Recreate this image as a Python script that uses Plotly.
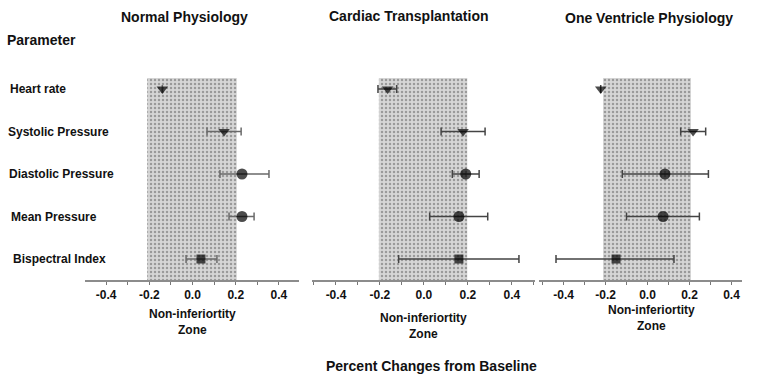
import plotly.graph_objects as go

parameters = ["Heart rate", "Systolic Pressure", "Diastolic Pressure", "Mean Pressure", "Bispectral Index"]
row_pos = [5, 4, 3, 2, 1]
symbols = ["triangle-down", "triangle-down", "circle", "circle", "square"]

panel_titles = ["Normal Physiology", "Cardiac Transplantation", "One Ventricle Physiology"]

normal_est = [-0.14, 0.146, 0.229, 0.229, 0.039]
normal_lo = [None, 0.067, 0.127, 0.169, -0.03]
normal_hi = [None, 0.225, 0.354, 0.285, 0.113]

cardiac_est = [-0.165, 0.178, 0.19, 0.159, 0.159]
cardiac_lo = [-0.209, 0.078, 0.129, 0.026, -0.115]
cardiac_hi = [-0.124, 0.278, 0.251, 0.29, 0.432]

onev_est = [-0.223, 0.217, 0.083, 0.074, -0.15]
onev_lo = [None, 0.158, -0.12, -0.10, -0.436]
onev_hi = [None, 0.277, 0.29, 0.247, 0.126]

zone_normal = [-0.21, 0.205]
zone_cardiac = [-0.205, 0.197]
zone_onev = [-0.212, 0.207]

tick_vals = [-0.4, -0.2, 0.0, 0.2, 0.4]
tick_text = ["-0.4", "-0.2", "0.0", "0.2", "0.4"]

W, H = 760, 378
TOP, BOT = 78, 280
FONT = "Liberation Sans, Arial, sans-serif"


def py(p):
    return (BOT - p) / (BOT - TOP)


panels = [
    (normal_est, normal_lo, normal_hi, zone_normal, [85, 299], [-0.498, 0.493], "#6a6a6a"),
    (cardiac_est, cardiac_lo, cardiac_hi, zone_cardiac, [312, 535], [-0.509, 0.505], "#444444"),
    (onev_est, onev_lo, onev_hi, zone_onev, [539, 742], [-0.517, 0.45], "#444444"),
]
y_range = [0.506, 5.259]

fig = go.Figure()
layout_axes = {}
for i, (est, lo, hi, zone, dom_px, xr, ecol) in enumerate(panels):
    n = i + 1
    xa = "x" if n == 1 else f"x{n}"
    ya = "y" if n == 1 else f"y{n}"
    fig.add_trace(go.Scatter(
        x=[zone[0], zone[1], zone[1], zone[0], zone[0]],
        y=[y_range[0], y_range[0], y_range[1], y_range[1], y_range[0]],
        mode="lines", line=dict(width=0), fill="toself",
        fillcolor="#d2d2d2",
        fillpattern=dict(shape=".", fgcolor="#9a9a9a", bgcolor="#d6d6d6", size=4, solidity=0.3, fillmode="replace"),
        xaxis=xa, yaxis=ya, hoverinfo="skip", showlegend=False))
    plus = [(h - e) if h is not None else None for e, h in zip(est, hi)]
    minus = [(e - l) if l is not None else None for e, l in zip(est, lo)]
    # error bars (drawn first)
    fig.add_trace(go.Scatter(
        x=est, y=row_pos, mode="markers",
        marker=dict(size=1, color=ecol),
        error_x=dict(type="data", array=plus, arrayminus=minus, color=ecol, thickness=1.5, width=4),
        xaxis=xa, yaxis=ya, hoverinfo="skip", showlegend=False))
    # point estimates on top
    fig.add_trace(go.Scatter(
        x=est, y=row_pos, mode="markers",
        marker=dict(symbol=symbols, size=[10, 10, 11, 11, 9], color="#000000",
                    line=dict(width=0)),
        xaxis=xa, yaxis=ya, showlegend=False))
    xkey = "xaxis" if n == 1 else f"xaxis{n}"
    ykey = "yaxis" if n == 1 else f"yaxis{n}"
    layout_axes[xkey] = dict(
        domain=[dom_px[0] / W, dom_px[1] / W], range=xr, anchor=ya,
        tickvals=tick_vals, ticktext=tick_text, ticks="outside", ticklen=3, tickwidth=1,
        tickcolor="#777", showline=True, linecolor="#8c8c8c", linewidth=1.5,
        showgrid=False, zeroline=False,
        tickfont=dict(family=FONT, size=12, color="#111", weight="bold"),
        minor=dict(dtick=0.1, tick0=0, ticks="outside", ticklen=3, tickcolor="#777"),
    )
    layout_axes[ykey] = dict(
        domain=[0, 1], range=y_range, anchor=xa, visible=False, showgrid=False, zeroline=False)

fig.update_layout(**layout_axes)

annotations = []
title_pos = [(184, 17), (409, 16), (649, 18)]
for t, (cx, cy) in zip(panel_titles, title_pos):
    annotations.append(dict(text=t, x=cx / W, y=py(cy), xref="paper", yref="paper",
                            yanchor="middle", xanchor="center", showarrow=False,
                            font=dict(family=FONT, size=14, color="#111", weight="bold")))
zone_pos = [(192, 322), (424, 326), (651, 318)]
for cx, cy in zone_pos:
    annotations.append(dict(text="Non-inferiortity<br>Zone", x=cx / W, y=py(cy), xref="paper", yref="paper",
                            yanchor="middle", xanchor="center", showarrow=False,
                            font=dict(family=FONT, size=12, color="#111", weight="bold")))
annotations.append(dict(text="Parameter", x=5 / W, y=py(40), xref="paper", yref="paper",
                        xanchor="left", yanchor="middle", showarrow=False,
                        font=dict(family=FONT, size=14, color="#111", weight="bold")))
label_x = [8, 6, 7, 9, 11]
for p, lx, rp in zip(parameters, label_x, row_pos):
    annotations.append(dict(text=p, x=lx / W, y=rp, xref="paper", yref="y",
                            xanchor="left", yanchor="middle", showarrow=False,
                            font=dict(family=FONT, size=12, color="#111", weight="bold")))
annotations.append(dict(text="Percent Changes from Baseline", x=431 / W, y=py(366), xref="paper", yref="paper",
                        xanchor="center", yanchor="middle", showarrow=False,
                        font=dict(family=FONT, size=14, color="#111", weight="bold")))

fig.update_layout(
    width=W, height=H,
    margin=dict(l=0, r=0, t=TOP, b=H - BOT),
    paper_bgcolor="white", plot_bgcolor="white",
    annotations=annotations,
    font=dict(family=FONT),
)

fig.write_html("out.html", config={"displayModeBar": False},
               post_script="document.body.style.margin='0';")
